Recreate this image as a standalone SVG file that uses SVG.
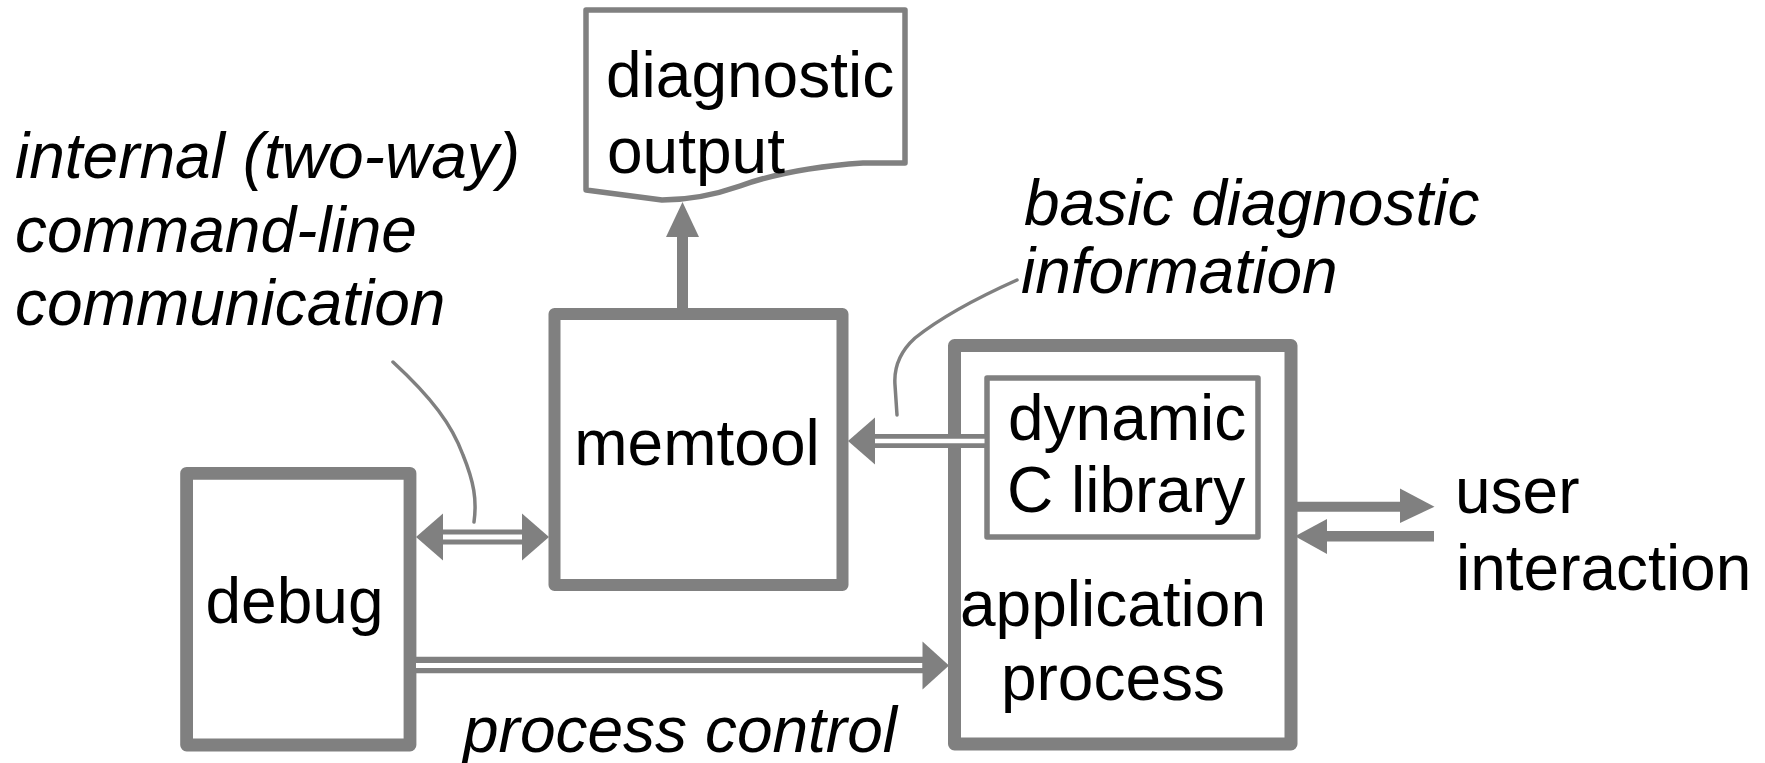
<svg xmlns="http://www.w3.org/2000/svg" width="1765" height="763" viewBox="0 0 1765 763">
<style>
.box{fill:#fff;stroke:#808080;stroke-linejoin:round}
.t{font-family:"Liberation Sans",Arial,Helvetica,sans-serif;font-size:64px;fill:#000}
.i{font-style:italic}
.g{stroke:#808080;fill:none}
.w{stroke:#fff;fill:none}
.h{fill:#808080;stroke:none}
.lead{stroke:#808080;fill:none;stroke-width:3.5;stroke-linecap:round}
</style>
<rect width="1765" height="763" fill="#fff"/>
<g id="diagnostic-output">
<path class="box" stroke-width="5.5" d="M586,10 H905 V163 H863 Q790,168 740,186 Q700,200 662,200 L586,190 Z"/>
<text class="t" x="606" y="97">diagnostic</text>
<text class="t" x="607" y="173">output</text>
</g>
<g id="memtool">
<rect class="box" x="554.5" y="314" width="288" height="271" stroke-width="12"/>
<text class="t" x="697" y="465" text-anchor="middle">memtool</text>
</g>
<g id="application-process">
<rect class="box" x="954.5" y="345.5" width="336.5" height="398.5" stroke-width="13"/>
<text class="t" x="1113" y="626" text-anchor="middle">application</text>
<text class="t" x="1113" y="700" text-anchor="middle">process</text>
</g>
<g id="dynamic-c-library">
<rect class="box" x="987" y="378" width="271" height="159" stroke-width="5.5"/>
<text class="t" x="1008" y="440">dynamic</text>
<text class="t" x="1007" y="512">C library</text>
</g>
<g id="debug">
<rect class="box" x="186.6" y="473.3" width="223.4" height="271.7" stroke-width="12.8"/>
<text class="t" x="294.5" y="623" text-anchor="middle">debug</text>
</g>
<g id="labels">
<text class="t i" x="15" y="178">internal (two-way)</text>
<text class="t i" x="15" y="252">command-line</text>
<text class="t i" x="15" y="325">communication</text>
<text class="t i" x="1024" y="225">basic diagnostic</text>
<text class="t i" x="1021" y="293">information</text>
<text class="t i" x="463" y="752">process control</text>
<text class="t" x="1455" y="513">user</text>
<text class="t" x="1456" y="590">interaction</text>
</g>
<g id="connectors">
<!-- memtool to diagnostic output -->
<line class="g" x1="682.5" y1="308" x2="682.5" y2="235" stroke-width="11"/>
<polygon class="h" points="682.5,202 666,237 699,237"/>
<!-- dynamic library to memtool -->
<line class="g" x1="870" y1="441" x2="986" y2="441" stroke-width="14"/>
<line class="w" x1="874" y1="441" x2="984.5" y2="441" stroke-width="4.5"/>
<polygon class="h" points="848,441 875,417.5 875,464.5"/>
<!-- debug <-> memtool -->
<line class="g" x1="440" y1="537" x2="525" y2="537" stroke-width="15"/>
<line class="w" x1="443" y1="537" x2="522" y2="537" stroke-width="5"/>
<polygon class="h" points="416,537 443,513.5 443,560.5"/>
<polygon class="h" points="549,537 522,513.5 522,560.5"/>
<!-- process control -->
<line class="g" x1="416" y1="665" x2="925" y2="665" stroke-width="16.5"/>
<line class="w" x1="416" y1="665.5" x2="922.5" y2="665.5" stroke-width="5"/>
<polygon class="h" points="949,665.5 922.5,641.5 922.5,689.5"/>
<!-- user interaction -->
<line class="g" x1="1295" y1="506.7" x2="1402" y2="506.7" stroke-width="10"/>
<polygon class="h" points="1434.5,506.7 1400,488.5 1400,523"/>
<line class="g" x1="1324" y1="536.3" x2="1434" y2="536.3" stroke-width="10.5"/>
<polygon class="h" points="1295,536.3 1327,519 1327,554"/>
<!-- leaders -->
<path class="lead" d="M393,362 C432,398 452,425 463,455 C474,482 477,500 474,522"/>
<path class="lead" d="M1017,280 Q950,310 915,338 Q893,358 895,385 L897,415"/>
</g>
</svg>
